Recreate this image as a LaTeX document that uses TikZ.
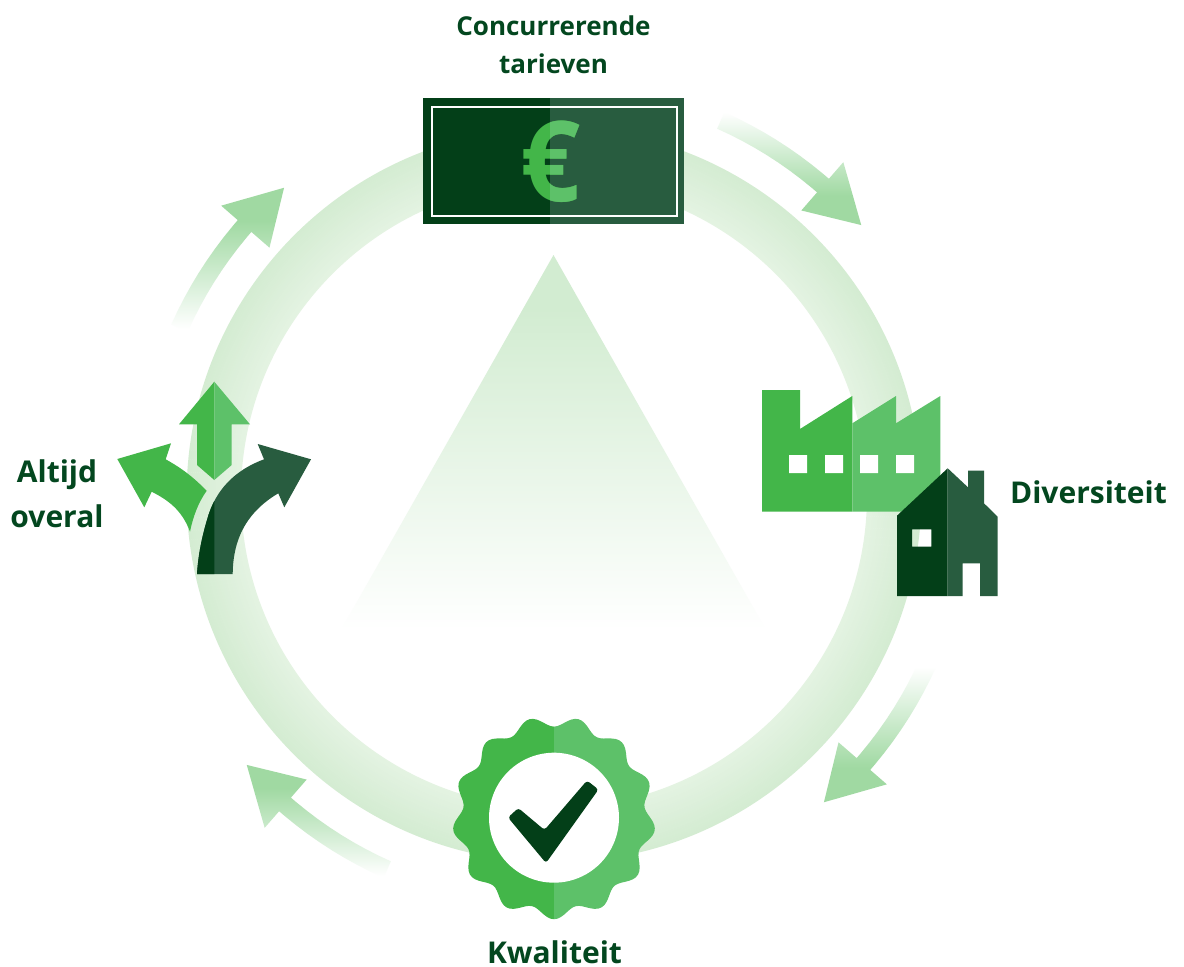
\documentclass[tikz,border=0pt]{standalone}
\usepackage{fontspec}
\setmainfont{Open Sans}
\definecolor{dkA}{HTML}{033F18}
\definecolor{dkB}{HTML}{285C3F}
\definecolor{grA}{HTML}{43B649}
\definecolor{grB}{HTML}{5DC169}
\definecolor{ringIn}{HTML}{E4F3E2}
\definecolor{ringOut}{HTML}{D4ECD2}
\definecolor{arr}{HTML}{A0D9A2}
\definecolor{tri}{HTML}{D2ECD1}
\definecolor{lab}{HTML}{03471F}
\pgfdeclareverticalshading{trish}{100bp}{color(0bp)=(white); color(25bp)=(white); color(68bp)=(tri); color(100bp)=(tri)}
\pgfdeclareverticalshading{arA}{100bp}{color(0bp)=(arr); color(38bp)=(arr); color(75bp)=(white); color(100bp)=(white)}
\pgfdeclareverticalshading{arB}{100bp}{color(0bp)=(arr); color(37bp)=(arr); color(72bp)=(white); color(100bp)=(white)}
\pgfdeclareverticalshading{arC}{100bp}{color(0bp)=(white); color(26bp)=(white); color(64.6bp)=(arr); color(100bp)=(arr)}
\pgfdeclareverticalshading{arD}{100bp}{color(0bp)=(white); color(26bp)=(white); color(63.6bp)=(arr); color(100bp)=(arr)}
\newcommand\cyclearrow[2]{%
  \path[shading=#2,shade] ({#1-66}:419)
    \foreach \a in {-64,-62,...,-50}{ -- ({#1+\a}:419) } -- ({#1-49}:419)
    -- ({#1-49}:441) -- ({#1-41.3}:409) -- ({#1-49}:377) -- ({#1-49}:401)
    \foreach \a in {-50,-52,...,-64}{ -- ({#1+\a}:401) } -- ({#1-66}:401) -- cycle;}
\tikzset{lbl/.style={anchor=base,text=lab,font=\bfseries\fontsize{30}{30}\selectfont,inner sep=0pt},
  lblsm/.style={lbl,font=\bfseries\fontsize{26}{26}\selectfont},
  eurostyle/.style={anchor=base,inner sep=0pt,font=\bfseries\fontsize{112}{112}\selectfont}}
\begin{document}
\begin{tikzpicture}[x=1pt,y=-1pt]
\useasboundingbox[fill=white] (0,0) rectangle (1184,967);
% ring, triangle and cycle arrows
\begin{scope}[shift={(554,495)}]
  \foreach \i in {0,...,26}{
    \pgfmathsetmacro\rr{314.2+2*\i}
    \pgfmathsetmacro\mm{100*\i/26}
    \draw[ringOut!\mm!ringIn,line width=2.4pt] (0,0) circle[radius=\rr pt];
  }
  \cyclearrow{0}{arA}
  \cyclearrow{90}{arB}
  \cyclearrow{180}{arC}
  \cyclearrow{270}{arD}
\end{scope}
\path[shade,shading=trish] (553.5,255) -- (766,630) -- (341,630) -- cycle;
% banknote
\fill[dkA] (423,98) rectangle (550,224);
\fill[dkB] (550,98) rectangle (684,224);
\draw[white,line width=2] (431.7,106.5) rectangle (676.7,216);
\node[eurostyle,text=grA] (euroa) at (551,201) {\scalebox{0.94}[1]{€}};
\begin{scope}
  \clip (550,98) rectangle (684,224);
  \node[eurostyle,text=grB] (eurob) at (551,201) {\scalebox{0.94}[1]{€}};
\end{scope}
% factory
\fill[grA] (762,390) -- (800,390) -- (800,429) -- (852.3,396) -- (852.3,511.7) -- (762,511.7) -- cycle;
\fill[grB] (852.3,423.3) -- (896,396) -- (896,423.3) -- (940.3,396) -- (940.3,511.7) -- (852.3,511.7) -- cycle;
\fill[white] (789,455) rectangle (807,473) (825,455) rectangle (843,473)
  (860,455) rectangle (878,473) (896,455) rectangle (914,473);
% house
\fill[dkA,even odd rule] (947.7,468.3) -- (897,515.7) -- (897,596) -- (947.7,596) -- cycle
  (912,529.3) rectangle (931.3,546.7);
\fill[dkB,even odd rule] (947.7,468.3) -- (968,487.3) -- (968,470.7) -- (984,470.7) -- (984,503.3) -- (997.7,516.7) -- (997.7,596) -- (980,596) -- (980,563.3) -- (962.7,563.3) -- (962.7,596) -- (947.7,596) -- cycle;
% badge
\begin{scope}[shift={(554,817.7)}]
  \fill[grA] (90:101.5) \foreach \a in {92,94,...,270}{ -- (\a:{96.3+5.2*cos(13*(\a-90))}) } -- cycle;
  \fill[grB] (-90:91.1) \foreach \a in {-88,-86,...,90}{ -- (\a:{96.3+5.2*cos(13*(\a-90))}) } -- cycle;
  \fill[white] (0,-65) \foreach \a in {-88,-84,...,268}{ -- (\a:65) } -- cycle;
\end{scope}
\fill[dkA,rounded corners=3pt] (587,780.5) -- (598.5,789.5) -- (546,863) -- (508,817.5) -- (518.3,808) -- (544.5,830) -- cycle;
% three-way arrows
\fill[grA] (214.3,381.7) -- (179,424.3) -- (197,424.3) -- (197,465) -- (214.3,480) -- cycle;
\fill[grB] (214.3,381.7) -- (250,424.3) -- (231.7,424.3) -- (231.7,465) -- (214.3,480) -- cycle;
\fill[grA] (117.3,459) -- (171,443.3) -- (165.7,459.3) .. controls (185,470) and (196,480) .. (206.7,490.7)
  .. controls (198,503) and (193,517) .. (190,531.7) .. controls (182,510) and (168,500) .. (151.7,491.7) -- (144.3,507.3) -- cycle;
\fill[dkB] (311,459.3) -- (257.7,444) -- (264,459.3) .. controls (235,470) and (215,490) .. (207,520)
  .. controls (201,540) and (198,558) .. (197,574) -- (232.7,574) .. controls (233,535) and (250,510) .. (278.3,493.3) -- (284.3,507.3) -- cycle;
\begin{scope}
  \clip (190,480) rectangle (214.3,580);
  \fill[dkA] (264,459.3) .. controls (235,470) and (215,490) .. (207,520)
    .. controls (201,540) and (198,558) .. (197,574) -- (232.7,574) .. controls (233,535) and (250,510) .. (278.3,493.3) -- cycle;
\end{scope}
% labels
\node[lblsm] (l1a) at (553.5,35) {Concurrerende};
\node[lblsm] (l1b) at (553.5,73) {tarieven};
\node[lbl] (l2) at (1088.5,503) {Diversiteit};
\node[lbl] (l3) at (554.5,963.5) {Kwaliteit};
\node[lbl] (l4a) at (57,482) {Altijd};
\node[lbl] (l4b) at (57,527) {overal};
\end{tikzpicture}
\end{document}
